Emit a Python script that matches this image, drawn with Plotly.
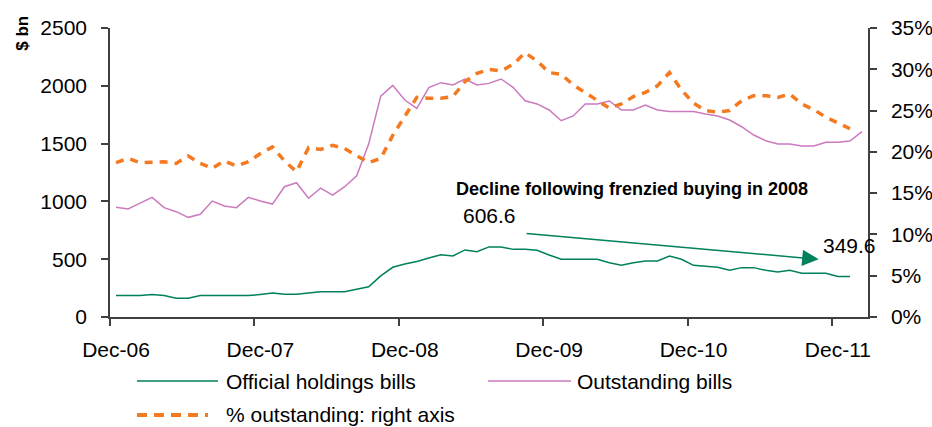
import plotly.graph_objects as go
import pandas as pd

# ---- data -------------------------------------------------------------
months = list(pd.date_range("2006-12-01", periods=63, freq="MS").strftime("%b-%y"))

official_holdings = [185, 185, 185, 195, 185, 162, 162, 185, 185, 185,
                     185, 185, 195, 207, 197, 197, 207, 218, 218, 218,
                     240, 262, 355, 430, 458, 480, 510, 539, 528, 580,
                     565, 606.6, 606, 585, 585, 577, 536, 499, 499, 499,
                     499, 470, 447, 470, 484, 484, 528, 499, 447, 438,
                     430, 404, 427, 427, 404, 389, 404, 378, 378, 378,
                     349.6, 349.6]

outstanding_bills = [949, 934, 985, 1035, 946, 911, 862, 888, 1003, 960,
                     946, 1035, 1003, 977, 1127, 1162, 1027, 1115, 1055, 1127,
                     1222, 1496, 1911, 2004, 1877, 1805, 1984, 2027, 2007, 2059,
                     2007, 2021, 2059, 1987, 1871, 1843, 1791, 1698, 1739, 1843,
                     1843, 1869, 1791, 1791, 1834, 1791, 1777, 1777, 1777, 1756,
                     1739, 1704, 1646, 1574, 1525, 1497, 1497, 1479, 1479, 1511,
                     1511, 1522, 1603]

pct_outstanding = [18.7, 19.2, 18.7, 18.8, 18.8, 18.6, 19.5, 18.6, 18.0, 18.9,
                   18.3, 18.8, 19.8, 20.6, 18.9, 17.6, 20.5, 20.3, 20.8, 20.4,
                   19.5, 18.7, 19.2, 22.0, 24.3, 26.6, 26.5, 26.5, 26.7, 28.5,
                   29.5, 30.0, 29.8, 30.6, 32.0, 31.0, 29.6, 29.4, 28.1, 27.2,
                   26.3, 25.3, 25.8, 26.7, 27.2, 28.0, 29.6, 27.5, 25.9, 25.0,
                   24.8, 25.0, 26.2, 26.8, 26.8, 26.6, 27.0, 25.8, 25.1, 24.2,
                   23.5, 22.8]

x_tick_labels = ["Dec-06", "Dec-07", "Dec-08", "Dec-09", "Dec-10", "Dec-11"]
left_ticks = [0, 500, 1000, 1500, 2000, 2500]
right_ticks = [0, 5, 10, 15, 20, 25, 30, 35]

series_names = ["Official holdings bills", "Outstanding bills", "% outstanding: right axis"]
annotation_text = "Decline following frenzied buying in 2008"

# ---- styling ----------------------------------------------------------
GREEN = "#00805C"
PINK = "#CC7ABE"
ORANGE = "#F47A22"
AXIS = "#404040"
FONT = "Liberation Sans, Arial, sans-serif"
FS = 21

x_idx = list(range(len(months)))

fig = go.Figure()
fig.add_trace(go.Scatter(x=x_idx[:len(official_holdings)], y=official_holdings,
                         mode="lines", name=series_names[0],
                         line=dict(color=GREEN, width=1.5),
                         text=months, hovertemplate="%{text}: %{y}<extra></extra>"))
fig.add_trace(go.Scatter(x=x_idx[:len(outstanding_bills)], y=outstanding_bills,
                         mode="lines", name=series_names[1],
                         line=dict(color=PINK, width=1.5),
                         text=months, hovertemplate="%{text}: %{y}<extra></extra>"))
fig.add_trace(go.Scatter(x=x_idx[:len(pct_outstanding)], y=pct_outstanding,
                         mode="lines", name=series_names[2], yaxis="y2",
                         line=dict(color=ORANGE, width=3.5, dash="8px,7px"),
                         text=months, hovertemplate="%{text}: %{y}%<extra></extra>"))

# x ticks sit on category boundaries (Dec of each year)
x_tickvals = [-0.5 + 12 * k for k in range(len(x_tick_labels))]

axis_common = dict(ticks="outside", ticklen=7, tickwidth=1.5, tickcolor=AXIS,
                   showline=True, linecolor=AXIS, linewidth=1.5,
                   showgrid=False, zeroline=False, automargin=False,
                   tickfont=dict(size=FS, family=FONT, color="#000000"))

fig.update_layout(
    width=932, height=427,
    margin=dict(l=110, r=64, t=28, b=110, autoexpand=False),
    paper_bgcolor="white", plot_bgcolor="white",
    showlegend=False,
    font=dict(family=FONT, size=FS, color="#000000"),
    xaxis=dict(range=[-0.5, 62.5], tickvals=x_tickvals, ticktext=x_tick_labels,
               ticklabelshift=6, ticklabelstandoff=6, **axis_common),
    yaxis=dict(range=[0, 2500], tickvals=left_ticks, ticklabelstandoff=10,
               **axis_common),
    yaxis2=dict(range=[0, 35], tickvals=right_ticks,
                ticktext=[f"{v}%" for v in right_ticks],
                overlaying="y", side="right", ticklabelstandoff=10,
                **axis_common),
)

# ---- annotations --------------------------------------------------------
peak_i = official_holdings.index(max(official_holdings))
last_i = len(official_holdings) - 1

fig.add_annotation(x=-0.115, y=0.983, xref="paper", yref="paper",
                   xanchor="center", yanchor="middle",
                   text="<b>$ bn</b>", textangle=-90, showarrow=False,
                   font=dict(size=17, family=FONT))
fig.add_annotation(x=42.86, y=1107, xref="x", yref="y",
                   xanchor="center", yanchor="middle",
                   text="<b>" + annotation_text + "</b>", showarrow=False,
                   font=dict(size=18, family=FONT))
fig.add_annotation(x=peak_i, y=official_holdings[peak_i], xref="x", yref="y",
                   xanchor="center", yanchor="middle",
                   text=f"{official_holdings[peak_i]:.1f}", showarrow=False,
                   yshift=31, font=dict(size=FS, family=FONT))
fig.add_annotation(x=last_i, y=official_holdings[last_i], xref="x", yref="y",
                   xanchor="center", yanchor="middle",
                   text=f"{official_holdings[last_i]:.1f}", showarrow=False,
                   yshift=31, font=dict(size=FS, family=FONT))
# arrow
fig.add_annotation(x=58.4, y=499, xref="x", yref="y",
                   ax=34.0, ay=724, axref="x", ayref="y",
                   text="", showarrow=True, arrowhead=2, arrowsize=2.2,
                   arrowwidth=1.5, arrowcolor=GREEN)

# ---- custom legend (long sample lines) ---------------------------------
def px_x(px):
    return (px - 110) / 758.0

def px_y(py):
    return (317 - py) / 289.0

legend_items = [
    (137, 218, 381, GREEN, 1.5, None, 224, series_names[0]),
    (488, 571, 381, PINK, 1.5, None, 575, series_names[1]),
    (137, 208, 415, ORANGE, 4, "10px,7px", 224, series_names[2]),
]
for x0, x1, yy, col, w, dash, tx, label in legend_items:
    line = dict(color=col, width=w)
    if dash:
        line["dash"] = dash
    fig.add_shape(type="line", xref="paper", yref="paper",
                  x0=px_x(x0), x1=px_x(x1), y0=px_y(yy), y1=px_y(yy), line=line)
    fig.add_annotation(x=px_x(tx), y=px_y(yy), xref="paper", yref="paper",
                       text=label, showarrow=False, xanchor="left", yanchor="middle",
                       font=dict(size=FS, family=FONT))

fig.write_html("out.html", config={"displayModeBar": False},
               post_script="document.body.style.margin='0';")
